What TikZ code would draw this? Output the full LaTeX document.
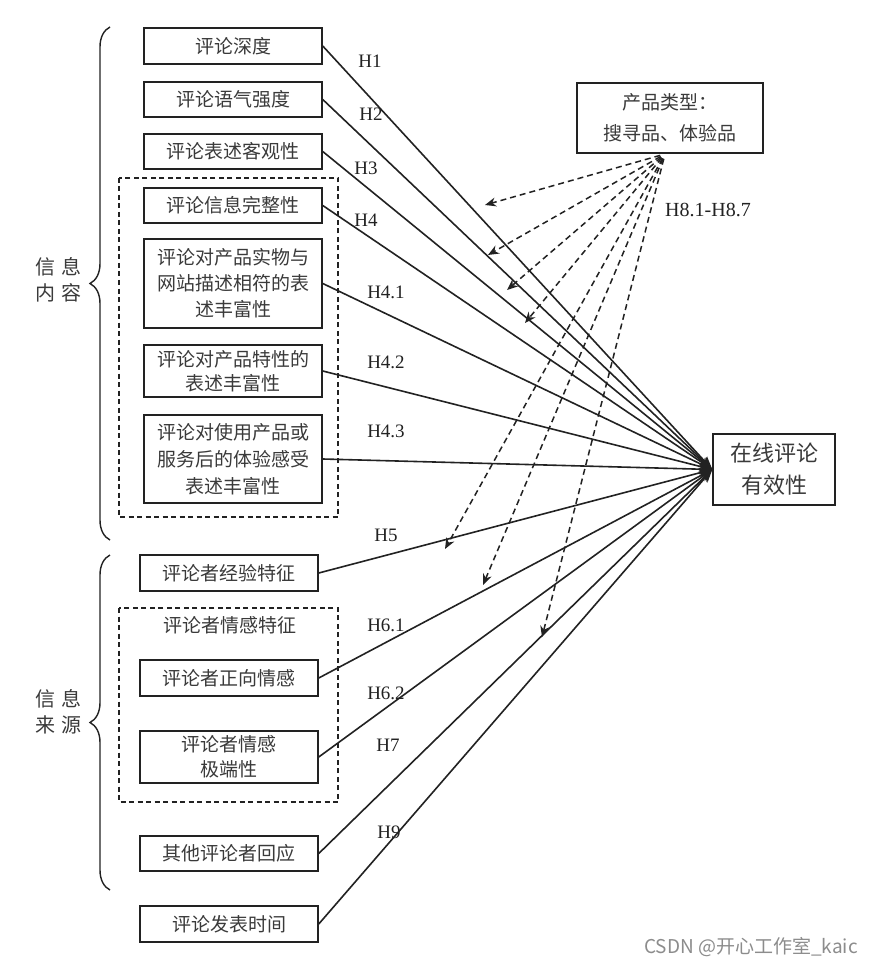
\documentclass[tikz,border=0pt]{standalone}
\usepackage{fontspec}
\setmainfont{Noto Sans CJK SC}
\newfontfamily\hfont{Liberation Serif}
\usetikzlibrary{arrows.meta,decorations.pathreplacing,calc}
\definecolor{ink}{HTML}{222222}
\definecolor{txt}{HTML}{3A3A3A}
\begin{document}
\begin{tikzpicture}[x=1pt,y=-1pt,
  box/.style={draw=ink,line width=1.5pt,minimum width=178pt,inner sep=0pt,align=center,text=txt,font=\fontsize{19}{26}\selectfont},
  grp/.style={draw=ink,line width=1.7pt,dash pattern=on 5pt off 3.5pt},
  hl/.style={font=\hfont\fontsize{19}{22}\selectfont,text=ink,inner sep=0pt},
  rel/.style={draw=ink,line width=1.6pt,-{Stealth[length=13pt,width=10pt]}},
  mod/.style={draw=ink,line width=1.5pt,dash pattern=on 6pt off 4pt,shorten <=5pt,-{Stealth[length=11pt,width=9pt]}},
  brc/.style={draw=ink,line width=1.4pt,decorate,decoration={brace,amplitude=20pt}},
  side/.style={text=txt,font=\fontsize{20}{26}\selectfont,align=center,inner sep=0pt}
]
\useasboundingbox (0,0) rectangle (873,965);
\fill[white] (0,0) rectangle (873,965);

% dashed group frames
\draw[grp] (119,178) rectangle (338,517);
\draw[grp] (119,608) rectangle (338,802);

% braces and side labels
\draw[brc] (110,540) -- (110,27);
\draw[brc] (110,890) -- (110,555);
\node[side] (lc) at (58,280) {信\hspace{6pt}息\\内\hspace{6pt}容};
\node[side] (ls) at (58,712) {信\hspace{6pt}息\\来\hspace{6pt}源};

% left boxes
\node[box,minimum height=36pt] (d1) at (233,46) {评论深度};
\node[box,minimum height=35pt] (d2) at (233,99.5) {评论语气强度};
\node[box,minimum height=35pt] (d3) at (233,151.5) {评论表述客观性};
\node[box,minimum height=35pt] (d4) at (233,205.5) {评论信息完整性};
\node[box,minimum height=89pt] (d41) at (233,283.5) {评论对产品实物与\\网站描述相符的表\\述丰富性};
\node[box,minimum height=52pt,font=\fontsize{19}{24}\selectfont] (d42) at (233,371) {评论对产品特性的\\表述丰富性};
\node[box,minimum height=88pt,font=\fontsize{19}{27}\selectfont] (d43) at (233,459) {评论对使用产品或\\服务后的体验感受\\表述丰富性};
\node[box,minimum height=36pt] (s5) at (229,573) {评论者经验特征};
\node[text=txt,font=\fontsize{19}{26}\selectfont] (s6) at (230,625) {评论者情感特征};
\node[box,minimum height=36pt] (s61) at (229,678) {评论者正向情感};
\node[box,minimum height=52pt,font=\fontsize{19}{25}\selectfont] (s62) at (229,757) {评论者情感\\极端性};
\node[box,minimum height=35pt] (s7) at (229,853.5) {其他评论者回应};
\node[box,minimum height=36pt] (s9) at (229,924) {评论发表时间};

% right boxes
\node[box,minimum width=122pt,minimum height=71pt,font=\fontsize{22}{32}\selectfont] (tgt) at (774,469.5) {在线评论\\有效性};
\node[box,minimum width=186pt,minimum height=70pt,font=\fontsize{19}{31}\selectfont] (prod) at (670,118) {产品类型：\\搜寻品、体验品};

% dashed moderator arrows
\coordinate (src) at (665,154);
\coordinate (e1) at (485,205);
\coordinate (e2) at (488,255);
\coordinate (e3) at (507,290);
\coordinate (e4) at (525,323);
\coordinate (e5) at (445,549);
\coordinate (e6) at (483,585);
\coordinate (e7) at (542,637);
\foreach \e in {e1,e2,e3,e4,e5,e6,e7}
  \draw[mod] (src) -- (\e);

% main relations
\foreach \n in {d1,d2,d3,d4,d41,d42,d43,s5,s61,s62,s7,s9}
  \draw[rel] (\n.east) -- (tgt.west);

% hypothesis labels
\node[hl] (h1) at (370,61) {H1};
\node[hl] (h2) at (371,114) {H2};
\node[hl] (h3) at (366,168) {H3};
\node[hl] (h4) at (366,220) {H4};
\node[hl] (h41) at (386,292) {H4.1};
\node[hl] (h42) at (386,362) {H4.2};
\node[hl] (h43) at (386,431) {H4.3};
\node[hl] (h5) at (386,535) {H5};
\node[hl] (h61) at (386,625) {H6.1};
\node[hl] (h62) at (386,693) {H6.2};
\node[hl] (h7) at (388,745) {H7};
\node[hl] (h9) at (389,832) {H9};
\node[hl,font=\hfont\fontsize{20}{22}\selectfont] (h8) at (708,210) {H8.1-H8.7};

% watermark
\node[text=black!45,font=\fontsize{19}{22}\selectfont,anchor=east,inner sep=0pt] (wm) at (858,947) {CSDN @开心工作室\_kaic};
\end{tikzpicture}
\end{document}
